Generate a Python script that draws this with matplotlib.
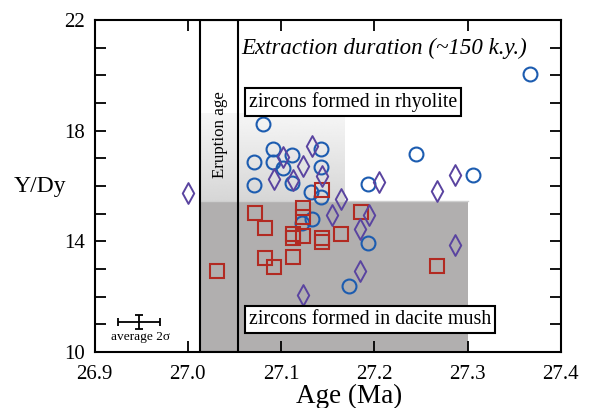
import matplotlib
matplotlib.use("Agg")
import matplotlib.pyplot as plt
import numpy as np
from matplotlib.path import Path
from matplotlib.patches import Rectangle
from matplotlib.ticker import MultipleLocator, FixedLocator

plt.rcParams['font.family'] = ['Liberation Serif', 'DejaVu Serif']
plt.rcParams['mathtext.fontset'] = 'stix'

# Data
circle_age = [27.367, 27.245, 27.306, 27.193, 27.081, 27.091, 27.071, 27.091, 27.112, 27.102,
              27.143, 27.143, 27.071, 27.112, 27.132, 27.143, 27.122, 27.133, 27.173, 27.193]
circle_ydy = [20.05, 17.16, 16.40, 16.07, 18.24, 17.34, 16.87, 16.87, 17.12, 16.65,
              17.34, 16.69, 16.04, 16.11, 15.78, 15.60, 14.66, 14.81, 12.39, 13.94]

square_age = [27.072, 27.083, 27.123, 27.123, 27.113, 27.113, 27.124, 27.144, 27.144, 27.164,
              27.186, 27.083, 27.092, 27.113, 27.031, 27.144, 27.267]
square_ydy = [15.02, 14.48, 15.20, 14.88, 14.26, 14.12, 14.19, 14.12, 13.98, 14.26,
              15.06, 13.40, 13.07, 13.43, 12.93, 15.85, 13.11]

diamond_age = [27.000, 27.133, 27.102, 27.123, 27.092, 27.113, 27.144, 27.164, 27.155, 27.194,
               27.185, 27.185, 27.123, 27.205, 27.267, 27.286, 27.286]
diamond_ydy = [15.74, 17.44, 17.05, 16.72, 16.25, 16.22, 16.36, 15.53, 14.95, 14.95,
               14.45, 12.93, 12.06, 16.14, 15.82, 16.40, 13.87]

eruption_age = [27.013, 27.0535]
mush_region = [27.013, 27.300, 10.0, 15.45]
rhyolite_region = [27.013, 27.168, 15.45, 18.6]
avg_err_center = [26.948, 11.08]
avg_err = [0.0225, 0.25]

fig = plt.figure(figsize=(5.91, 4.08), dpi=100)
ax = fig.add_axes([0.160, 0.137, 0.789, 0.814])
ax.set_xlim(26.9, 27.4)
ax.set_ylim(10, 22)

# Regions
x0, x1, y0, y1 = rhyolite_region
grad = np.linspace(0.84, 0.965, 256).reshape(-1, 1)
ax.imshow(grad, extent=[x0, x1, y0, y1], origin='lower', cmap='gray', vmin=0, vmax=1,
          aspect='auto', zorder=0.5)
x0, x1, y0, y1 = mush_region
ax.add_patch(Rectangle((x0, y0), x1 - x0, y1 - y0, facecolor='#b1afaf', edgecolor='none', zorder=0.6))
ax.plot([x0, x1], [y1, y1], color='#cfcfcf', lw=1.0, zorder=0.7)
ax.add_patch(Rectangle((eruption_age[0], 10), eruption_age[1] - eruption_age[0], 12,
                       facecolor='none', edgecolor='black', lw=1.5, zorder=1))

# Markers
dverts = [(0, 1), (0.55, 0), (0, -1), (-0.55, 0), (0, 1)]
dpath = Path(dverts, [Path.MOVETO, Path.LINETO, Path.LINETO, Path.LINETO, Path.CLOSEPOLY])

ax.plot(circle_age, circle_ydy, 'o', ms=10, mfc='none', mec='#1c5cb0', mew=1.5, zorder=3)
ax.plot(square_age, square_ydy, 's', ms=10, mfc='none', mec='#b22a22', mew=1.5, zorder=3)
ax.plot(diamond_age, diamond_ydy, ls='none', marker=dpath, ms=15, mfc='none', mec='#5a44a0', mew=1.4, zorder=3)

# Error bar
ax.errorbar([avg_err_center[0]], [avg_err_center[1]], xerr=[avg_err[0]], yerr=[avg_err[1]],
            fmt='none', ecolor='black', elinewidth=1.3, capsize=3, capthick=1.3)
ax.text(26.949, 10.54, 'average 2σ', ha='center', va='center', fontsize=9.6)

# Texts
ax.text(27.210, 20.99, 'Extraction duration (~150 k.y.)', style='italic', ha='center', va='center', fontsize=16.5)
ax.text(27.177, 19.03, 'zircons formed in rhyolite', ha='center', va='center', fontsize=14.4,
        bbox=dict(boxstyle='square,pad=0.2', facecolor='white', edgecolor='black', lw=1.5), zorder=4)
ax.text(27.195, 11.17, 'zircons formed in dacite mush', ha='center', va='center', fontsize=14.4,
        bbox=dict(boxstyle='square,pad=0.2', facecolor='white', edgecolor='black', lw=1.5), zorder=4)
ax.text(27.034, 17.85, 'Eruption age', rotation=90, ha='center', va='center', fontsize=12.2)

# Axes styling
ax.xaxis.set_major_locator(FixedLocator([26.9, 27.0, 27.1, 27.2, 27.3, 27.4]))
ax.set_xticklabels(['26.9', '27.0', '27.1', '27.2', '27.3', '27.4'])
ax.yaxis.set_major_locator(FixedLocator([10, 14, 18, 22]))
ax.yaxis.set_minor_locator(MultipleLocator(1))
ax.tick_params(axis='both', which='both', direction='in', top=True, right=True,
               length=8, width=1.3, labelsize=15)
ax.tick_params(axis='x', pad=9)
ax.tick_params(axis='y', pad=7)
for s in ax.spines.values():
    s.set_linewidth(1.5)
ax.set_xlabel('Age (Ma)', fontsize=19.5, va='baseline', ha='center')
ax.set_ylabel('Y/Dy', fontsize=17, rotation=0, va='center', ha='center')
ax.yaxis.set_label_coords(-0.118, 0.5)
ax.xaxis.set_label_coords(0.5455, -0.152)

fig.savefig('out.png', dpi=100)
